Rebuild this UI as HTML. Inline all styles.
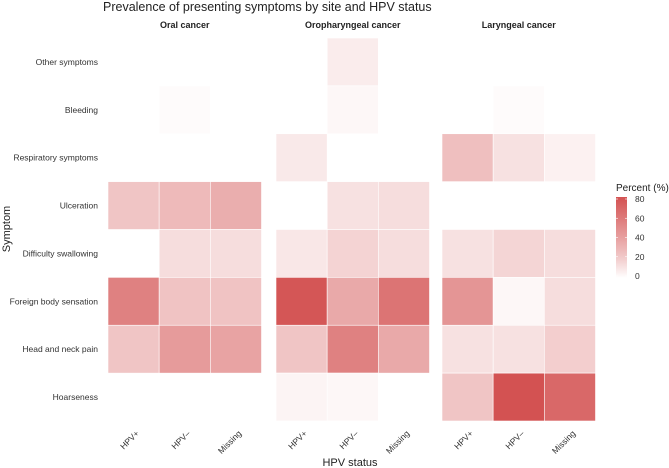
<!DOCTYPE html>
<html><head><meta charset="utf-8">
<style>
html,body{margin:0;padding:0;background:#fff;}
svg{display:block;font-family:"Liberation Sans",Arial,sans-serif;}
</style></head>
<body>
<svg id="chart" width="669" height="468" viewBox="0 0 669 468" xmlns="http://www.w3.org/2000/svg">
<text x="103" y="11" font-size="12.5" fill="#222">Prevalence of presenting symptoms by site and HPV status</text>
<text x="350" y="466" font-size="11" fill="#222" text-anchor="middle">HPV status</text>
<text transform="translate(10,229) rotate(-90)" font-size="11" fill="#222" text-anchor="middle">Symptom</text>
<g id="cells"></g>
<g id="legend"></g>
</svg>
<script>
const sites = ["Oral cancer","Oropharyngeal cancer","Laryngeal cancer"];
const hpvCats = ["HPV+","HPV–","Missing"];
const symptoms = ["Other symptoms","Bleeding","Respiratory symptoms","Ulceration","Difficulty swallowing","Foreign body sensation","Head and neck pain","Hoarseness"];
const oralVals = [
  [null,null,null],[null,1,null],[null,null,null],[22,27,33],
  [null,12,12],[55,23,23],[22,42,38],[null,null,null]];
const oroVals = [
  [null,6,null],[null,2,null],[7,null,null],[null,10,12],
  [8,16,12],[78,35,62],[22,55,35],[3,2,null]];
const larVals = [
  [null,null,null],[null,1,null],[25,10,4],[null,null,null],
  [10,15,12],[45,2,12],[10,10,18],[22,80,68]];
const legendTicks = [0,20,40,60,80];

const NS="http://www.w3.org/2000/svg";
const svgEl=document.getElementById('chart');
const cellsG=document.getElementById('cells');
const panelX=[108,276,442], panelW=153.5, plotTop=38, plotBottom=421;
const maxV=80;
const colW=panelW/3, rowH=(plotBottom-plotTop)/symptoms.length;
function xPos(p,c){return panelX[p]+c*colW;}
function yPos(r){return plotTop+r*rowH;}
function color(v){const t=Math.pow(Math.max(0,Math.min(1,v/maxV)),0.85);
  const r=Math.round(255+(211-255)*t),g=Math.round(255+(82-255)*t),b=Math.round(255+(82-255)*t);
  return `rgb(${r},${g},${b})`;}
function mk(tag,attrs){const e=document.createElementNS(NS,tag);for(const k in attrs)e.setAttribute(k,attrs[k]);return e;}

const allVals=[oralVals,oroVals,larVals];
allVals.forEach((vals,p)=>{
  const ft=mk('text',{x:panelX[p]+panelW/2,y:28,'font-size':'9','font-weight':'bold','text-anchor':'middle',fill:'#222'});
  ft.textContent=sites[p];
  
  
  svgEl.appendChild(ft);
  vals.forEach((row,r)=>{row.forEach((v,c)=>{
    if(v===null)return;
    const rc=mk('rect',{x:xPos(p,c),y:yPos(r),width:colW,height:rowH,fill:color(v),stroke:'#fff','stroke-width':'0.6'});
    
    
    cellsG.appendChild(rc);
  });});
  hpvCats.forEach((h,c)=>{
    const cx=xPos(p,c)+colW/2+6, cy=434;
    const t=mk('text',{transform:`translate(${cx},${cy}) rotate(-45)`,'font-size':'8.5','text-anchor':'end',fill:'#333'});
    t.textContent=h;
    
    
    svgEl.appendChild(t);
  });
});
symptoms.forEach((s,r)=>{
  const t=mk('text',{x:98,y:yPos(r)+rowH/2+3,'font-size':'8.5','text-anchor':'end',fill:'#333'});
  t.textContent=s;
  
  
  svgEl.appendChild(t);
});
const lg=document.getElementById('legend');
const lt=mk('text',{x:616,y:191,'font-size':'10',fill:'#222'});
lt.textContent='Percent (%)';


lg.appendChild(lt);
const defs=mk('defs',{});
const grad=mk('linearGradient',{id:'lgGrad',x1:'0',y1:'1',x2:'0',y2:'0'});
[0,0.25,0.5,0.75,1].forEach(f=>grad.appendChild(mk('stop',{offset:String(f),'stop-color':color(f*maxV)})));
defs.appendChild(grad);lg.appendChild(defs);
const barTop=197,barBot=278;
const bar=mk('rect',{x:616,y:barTop,width:11,height:barBot-barTop,fill:'url(#lgGrad)'});


lg.appendChild(bar);
const ly0=276, ly1=199;
legendTicks.forEach(v=>{
  const y=ly0+(ly1-ly0)*v/maxV;
  const t=mk('text',{x:635,y:y+3,'font-size':'8.5',fill:'#333'});
  t.textContent=v;
  
  
  lg.appendChild(t);
  lg.appendChild(mk('line',{x1:616,x2:618,y1:y,y2:y,stroke:'#fff','stroke-width':'0.6'}));
  lg.appendChild(mk('line',{x1:625,x2:627,y1:y,y2:y,stroke:'#fff','stroke-width':'0.6'}));
});
</script>
</body></html>
